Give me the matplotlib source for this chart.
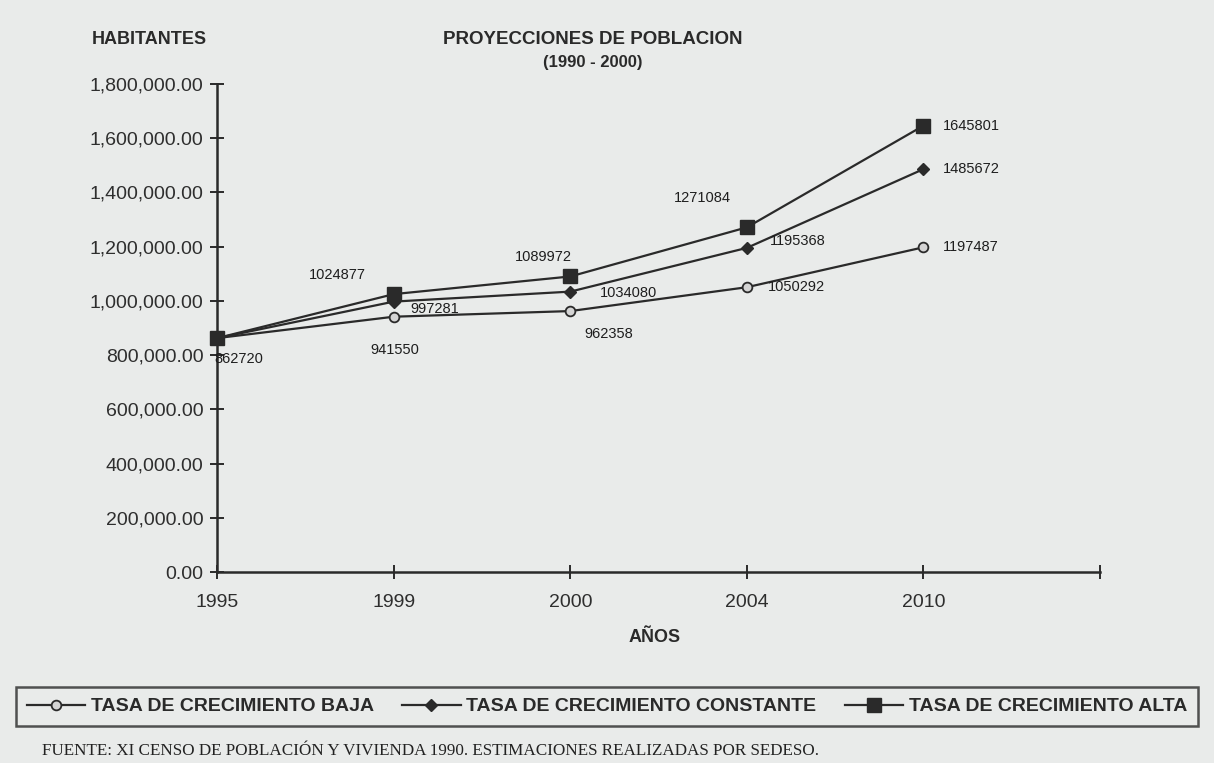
import matplotlib
matplotlib.use("Agg")
import matplotlib.pyplot as plt
from matplotlib.ticker import FuncFormatter

plt.rcParams['font.family'] = ['Liberation Sans', 'DejaVu Sans']

# datos
anios = ['1995', '1999', '2000', '2004', '2010']
tasa_baja = [862720, 941550, 962358, 1050292, 1197487]
tasa_constante = [862720, 997281, 1034080, 1195368, 1485672]
tasa_alta = [862720, 1024877, 1089972, 1271084, 1645801]
series_nombres = ['TASA DE CRECIMIENTO BAJA', 'TASA DE CRECIMIENTO CONSTANTE',
                  'TASA DE CRECIMIENTO ALTA']

bg = '#e9ebea'
ink = '#2a2a2a'

fig = plt.figure(figsize=(12.14, 7.63), dpi=100)
fig.patch.set_facecolor(bg)
ax = fig.add_axes([0.179, 0.2503, 0.727, 0.6397])
ax.set_facecolor(bg)

x = list(range(len(anios)))
estilos = [
    dict(marker='o', ms=7, mfc='#d4d4d4', mec=ink, mew=1.3),
    dict(marker='D', ms=6, mfc=ink, mec=ink),
    dict(marker='s', ms=9.5, mfc=ink, mec=ink),
]
lineas = []
for vals, st, nom in zip([tasa_baja, tasa_constante, tasa_alta], estilos, series_nombres):
    l, = ax.plot(x, vals, color=ink, lw=1.6, clip_on=False, label=nom, zorder=3, **st)
    lineas.append(l)

# etiquetas de valores: (dx px, dy px, alineacion)
px = 1 / 1.389
offs_baja = [(-3, -21, 'left'), (1, -33, 'center'), (14, -23, 'left'), (21, 0, 'left'), (20, 0, 'left')]
offs_const = [None, (17, -7, 'left'), (30, -1, 'left'), (23, 7, 'left'), (20, 0, 'left')]
offs_alta = [None, (-28, 19, 'right'), (2, 19, 'right'), (-44, 29, 'center'), (20, 0, 'left')]
for vals, offs in zip([tasa_baja, tasa_constante, tasa_alta], [offs_baja, offs_const, offs_alta]):
    for i, (v, o) in enumerate(zip(vals, offs)):
        if o is None:
            continue
        ax.annotate(str(v), (x[i], v), xytext=(o[0] * px, o[1] * px),
                    textcoords='offset points', ha=o[2], va='center',
                    fontsize=10.5, color='#1e1e1e', zorder=4)

ax.set_xlim(0, 5)
ax.set_ylim(0, 1800000)
ax.set_xticks(range(6))
ax.set_xticklabels(anios + [''])
ax.set_yticks(range(0, 1800001, 200000))
ax.yaxis.set_major_formatter(FuncFormatter(lambda v, p: '{:,.2f}'.format(v)))
for s in ['top', 'right']:
    ax.spines[s].set_visible(False)
for s in ['left', 'bottom']:
    ax.spines[s].set_color(ink)
    ax.spines[s].set_linewidth(1.8)
ax.tick_params(direction='inout', length=10, width=1.4, color=ink,
               labelsize=14, labelcolor='#2e2e2e')
ax.tick_params(axis='y', pad=5)
ax.tick_params(axis='x', pad=11)

fig.text(92 / 1214, 1 - 40 / 763, 'HABITANTES', fontsize=13, fontweight='bold',
         color=ink, va='center', ha='left')
fig.text(593 / 1214, 1 - 40 / 763, 'PROYECCIONES DE POBLACION', fontsize=13.5,
         fontweight='bold', color=ink, va='center', ha='center')
fig.text(593 / 1214, 1 - 63 / 763, '(1990 - 2000)', fontsize=12, fontweight='bold',
         color=ink, va='center', ha='center')
fig.text(655 / 1214, 1 - 637 / 763, 'AÑOS', fontsize=13, fontweight='bold',
         color=ink, va='center', ha='center')

leg = fig.legend(handles=lineas, loc='lower left', ncol=3, mode='expand',
                 bbox_to_anchor=(16 / 1214, 1 - 726 / 763, 1182 / 1214, 41 / 763),
                 borderaxespad=0, frameon=True, fancybox=False, edgecolor=ink,
                 facecolor=bg, handlelength=3.0, handletextpad=0.3, borderpad=0.55,
                 prop={'size': 14, 'weight': 'bold'})
leg.get_frame().set_linewidth(1.8)
for t in leg.get_texts():
    t.set_color(ink)

fig.text(42 / 1214, 1 - 751 / 763,
         'FUENTE: XI CENSO DE POBLACIÓN Y VIVIENDA 1990. ESTIMACIONES REALIZADAS POR SEDESO.',
         fontsize=12.3, family=['Liberation Serif', 'DejaVu Serif'], color='#222',
         va='center', ha='left')

fig.savefig('out.png', dpi=100, facecolor=bg)
